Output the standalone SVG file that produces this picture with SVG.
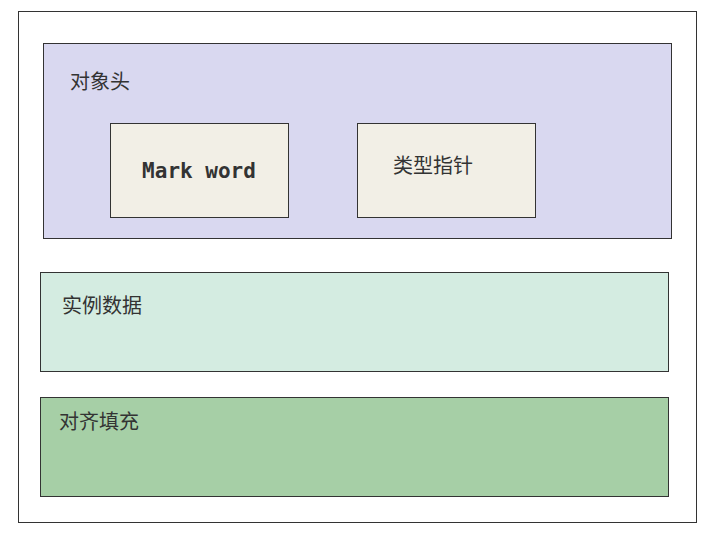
<svg xmlns="http://www.w3.org/2000/svg" width="716" height="542" viewBox="0 0 716 542">
<style>
.b{stroke:#333;stroke-width:1}
.t{font-family:"Liberation Sans","Noto Sans CJK SC",sans-serif;font-size:20px;fill:#333}
.m{font-family:"DejaVu Sans Mono","Liberation Mono",monospace;font-size:21px;font-weight:bold;fill:#333}
</style>
<rect width="716" height="542" fill="#fff"/>
<g id="outer"><rect class="b" x="18.5" y="11.5" width="678" height="511" fill="#fff"/></g>
<g id="header"><rect class="b" x="43.5" y="43.5" width="628" height="195" fill="#d9d8f0"/><text class="t" x="70" y="89">对象头</text></g>
<g id="markword"><rect class="b" x="110.5" y="123.5" width="178" height="94" fill="#f2efe6"/><text class="m" x="199" y="178" text-anchor="middle">Mark word</text></g>
<g id="typeptr"><rect class="b" x="357.5" y="123.5" width="178" height="94" fill="#f2efe6"/><text class="t" x="393" y="173">类型指针</text></g>
<g id="instance"><rect class="b" x="40.5" y="272.5" width="628" height="99" fill="#d4ece1"/><text class="t" x="62" y="313">实例数据</text></g>
<g id="padding"><rect class="b" x="40.5" y="397.5" width="628" height="99" fill="#a6cfa6"/><text class="t" x="59" y="429">对齐填充</text></g>
<g id="connectors"></g>
</svg>
